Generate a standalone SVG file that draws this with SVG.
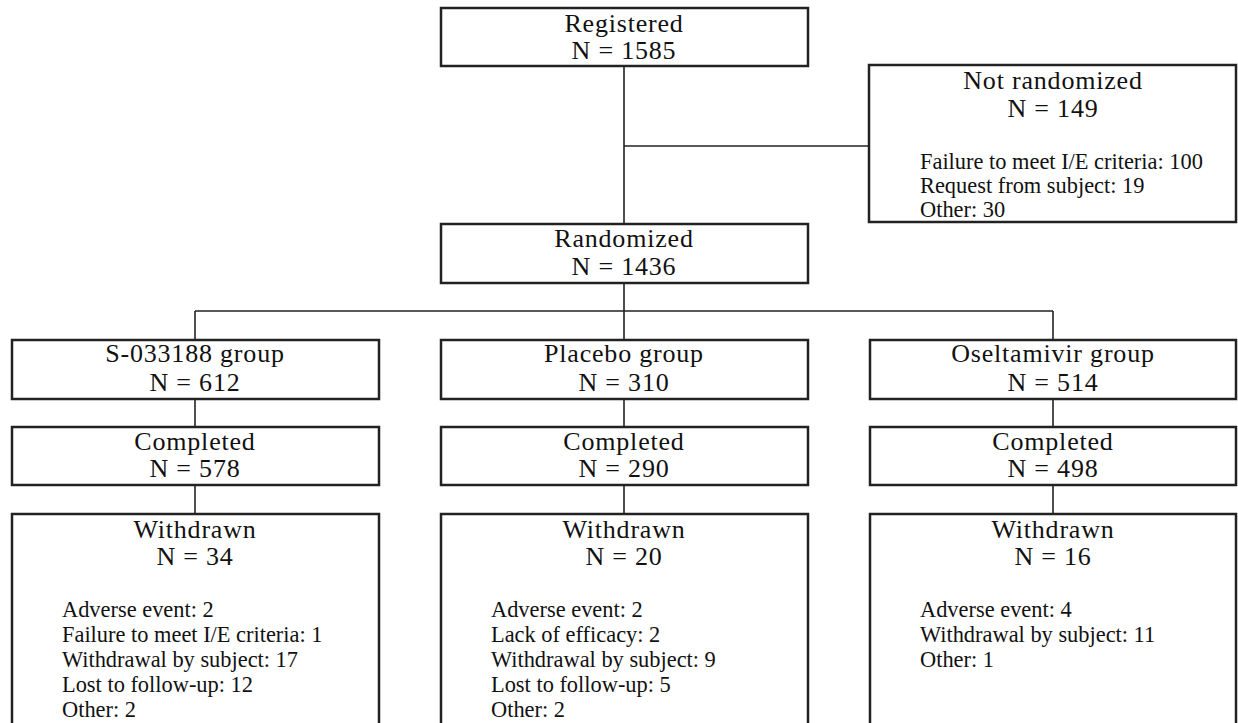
<svg xmlns="http://www.w3.org/2000/svg" width="1238" height="723" viewBox="0 0 1238 723">
<style>
.box{fill:#fff;stroke:#222;stroke-width:2.5}
.ln{stroke:#222;stroke-width:1.6;fill:none}
.t{font-family:'Liberation Serif','Times New Roman','DejaVu Serif',serif;font-size:26px;letter-spacing:0.8px;fill:#111;text-anchor:middle}
.d{font-family:'Liberation Serif','Times New Roman','DejaVu Serif',serif;font-size:22.4px;fill:#111}
</style>
<rect width="1238" height="723" fill="#fff"/>
<g id="connectors">
<line class="ln" x1="624" y1="66" x2="624" y2="223"/>
<line class="ln" x1="624" y1="146" x2="869" y2="146"/>
<line class="ln" x1="624" y1="283" x2="624" y2="340"/>
<line class="ln" x1="195" y1="311" x2="1053" y2="311"/>
<line class="ln" x1="195" y1="311" x2="195" y2="340"/>
<line class="ln" x1="1053" y1="311" x2="1053" y2="340"/>
<line class="ln" x1="195" y1="399" x2="195" y2="427"/>
<line class="ln" x1="624" y1="399" x2="624" y2="427"/>
<line class="ln" x1="1053" y1="399" x2="1053" y2="427"/>
<line class="ln" x1="195" y1="485" x2="195" y2="514"/>
<line class="ln" x1="624" y1="485" x2="624" y2="514"/>
<line class="ln" x1="1053" y1="485" x2="1053" y2="514"/>
</g>
<g id="registered">
<rect class="box" x="441" y="8" width="367" height="58"/>
<text class="t" x="624" y="32">Registered</text>
<text class="t" x="624" y="59">N = 1585</text>
</g>
<g id="not-randomized">
<rect class="box" x="869" y="65" width="367" height="157"/>
<text class="t" x="1053" y="89">Not randomized</text>
<text class="t" x="1053" y="117">N = 149</text>
<text class="d" x="920" y="169">Failure to meet I/E criteria: 100</text>
<text class="d" x="920" y="193">Request from subject: 19</text>
<text class="d" x="920" y="217">Other: 30</text>
</g>
<g id="randomized">
<rect class="box" x="441" y="224" width="367" height="59"/>
<text class="t" x="624" y="247">Randomized</text>
<text class="t" x="624" y="275">N = 1436</text>
</g>
<g id="s033188-group">
<rect class="box" x="12" y="340" width="367" height="59"/>
<text class="t" x="195" y="362">S-033188 group</text>
<text class="t" x="195" y="391">N = 612</text>
</g>
<g id="placebo-group">
<rect class="box" x="441" y="340" width="367" height="59"/>
<text class="t" x="624" y="362">Placebo group</text>
<text class="t" x="624" y="391">N = 310</text>
</g>
<g id="oseltamivir-group">
<rect class="box" x="870" y="340" width="366" height="59"/>
<text class="t" x="1053" y="362">Oseltamivir group</text>
<text class="t" x="1053" y="391">N = 514</text>
</g>
<g id="s033188-completed">
<rect class="box" x="12" y="427" width="367" height="58"/>
<text class="t" x="195" y="450">Completed</text>
<text class="t" x="195" y="477">N = 578</text>
</g>
<g id="placebo-completed">
<rect class="box" x="441" y="427" width="367" height="58"/>
<text class="t" x="624" y="450">Completed</text>
<text class="t" x="624" y="477">N = 290</text>
</g>
<g id="oseltamivir-completed">
<rect class="box" x="870" y="427" width="366" height="58"/>
<text class="t" x="1053" y="450">Completed</text>
<text class="t" x="1053" y="477">N = 498</text>
</g>
<g id="s033188-withdrawn">
<rect class="box" x="12" y="514" width="367" height="220"/>
<text class="t" x="195" y="538">Withdrawn</text>
<text class="t" x="195" y="565">N = 34</text>
<text class="d" x="62" y="617">Adverse event: 2</text>
<text class="d" x="62" y="642">Failure to meet I/E criteria: 1</text>
<text class="d" x="62" y="667">Withdrawal by subject: 17</text>
<text class="d" x="62" y="692">Lost to follow-up: 12</text>
<text class="d" x="62" y="717">Other: 2</text>
</g>
<g id="placebo-withdrawn">
<rect class="box" x="441" y="514" width="367" height="220"/>
<text class="t" x="624" y="538">Withdrawn</text>
<text class="t" x="624" y="565">N = 20</text>
<text class="d" x="491" y="617">Adverse event: 2</text>
<text class="d" x="491" y="642">Lack of efficacy: 2</text>
<text class="d" x="491" y="667">Withdrawal by subject: 9</text>
<text class="d" x="491" y="692">Lost to follow-up: 5</text>
<text class="d" x="491" y="717">Other: 2</text>
</g>
<g id="oseltamivir-withdrawn">
<rect class="box" x="870" y="514" width="366" height="220"/>
<text class="t" x="1053" y="538">Withdrawn</text>
<text class="t" x="1053" y="565">N = 16</text>
<text class="d" x="920" y="617">Adverse event: 4</text>
<text class="d" x="920" y="642">Withdrawal by subject: 11</text>
<text class="d" x="920" y="667">Other: 1</text>
</g>
</svg>
